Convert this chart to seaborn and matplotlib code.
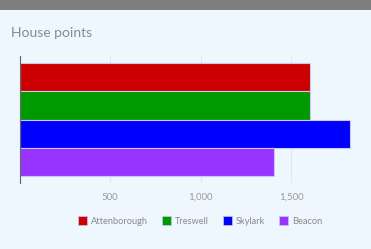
import matplotlib
matplotlib.use("Agg")
import matplotlib.pyplot as plt
import seaborn as sns
import pandas as pd
from matplotlib.ticker import FuncFormatter
from matplotlib.patches import Rectangle

# data
houses = ["Attenborough", "Treswell", "Skylark", "Beacon"]
points = [1605, 1605, 1823, 1403]
colors = ["#cc0000", "#009900", "#0000ff", "#9933ff"]
ticks = [500, 1000, 1500]

df = pd.DataFrame({"house": houses, "points": points})

sns.set_style("white")
plt.rcParams["font.family"] = ["Lato", "DejaVu Sans"]

bg = "#eef6fe"
fig = plt.figure(figsize=(3.71, 2.49), dpi=100, facecolor=bg)
# grey strip at the top
fig.patches.append(Rectangle((0, 1 - 10 / 249), 1, 10 / 249, transform=fig.transFigure,
                             facecolor="#7f7f7f", edgecolor="none"))

ax = fig.add_axes([19.5 / 371, 1 - 183 / 249, (354.5 - 19.5) / 371, (183 - 56) / 249])
ax.set_facecolor(bg)

sns.barplot(data=df, x="points", y="house", hue="house", palette=colors, saturation=1,
            width=1, edgecolor="#c8c8f0", linewidth=0.8, legend=False, ax=ax)

ax.set_xlim(0, 1850)
ax.set_ylim(3.75, -0.75)
ax.set_xticks(ticks)
ax.xaxis.set_major_formatter(FuncFormatter(lambda v, p: f"{int(v):,}"))
ax.set_yticks([])
ax.set_xlabel("")
ax.set_ylabel("")
ax.tick_params(axis="x", length=0, labelsize=7, labelcolor="#9a9a9a", pad=7)
ax.grid(axis="x", color="#dde8f5", linewidth=0.8)
ax.set_axisbelow(True)
for s in ["top", "right", "bottom"]:
    ax.spines[s].set_visible(False)
ax.spines["left"].set_color("#666666")
ax.spines["left"].set_linewidth(0.8)

fig.text(11 / 371, 1 - 33 / 249, "House points", fontsize=10, color="#8a8a8a",
         va="center", ha="left")

handles = [Rectangle((0, 0), 1, 1, facecolor=c, edgecolor="#c8c8f0", linewidth=0.5) for c in colors]
fig.legend(handles, houses, loc="center", bbox_to_anchor=(200 / 371, 1 - 221 / 249),
           ncol=4, frameon=False, fontsize=6.7, labelcolor="#8a8a8a",
           handlelength=1.0, handleheight=1.0, handletextpad=0.4, columnspacing=1.5)

fig.savefig("out.png", dpi=100, facecolor=bg)
